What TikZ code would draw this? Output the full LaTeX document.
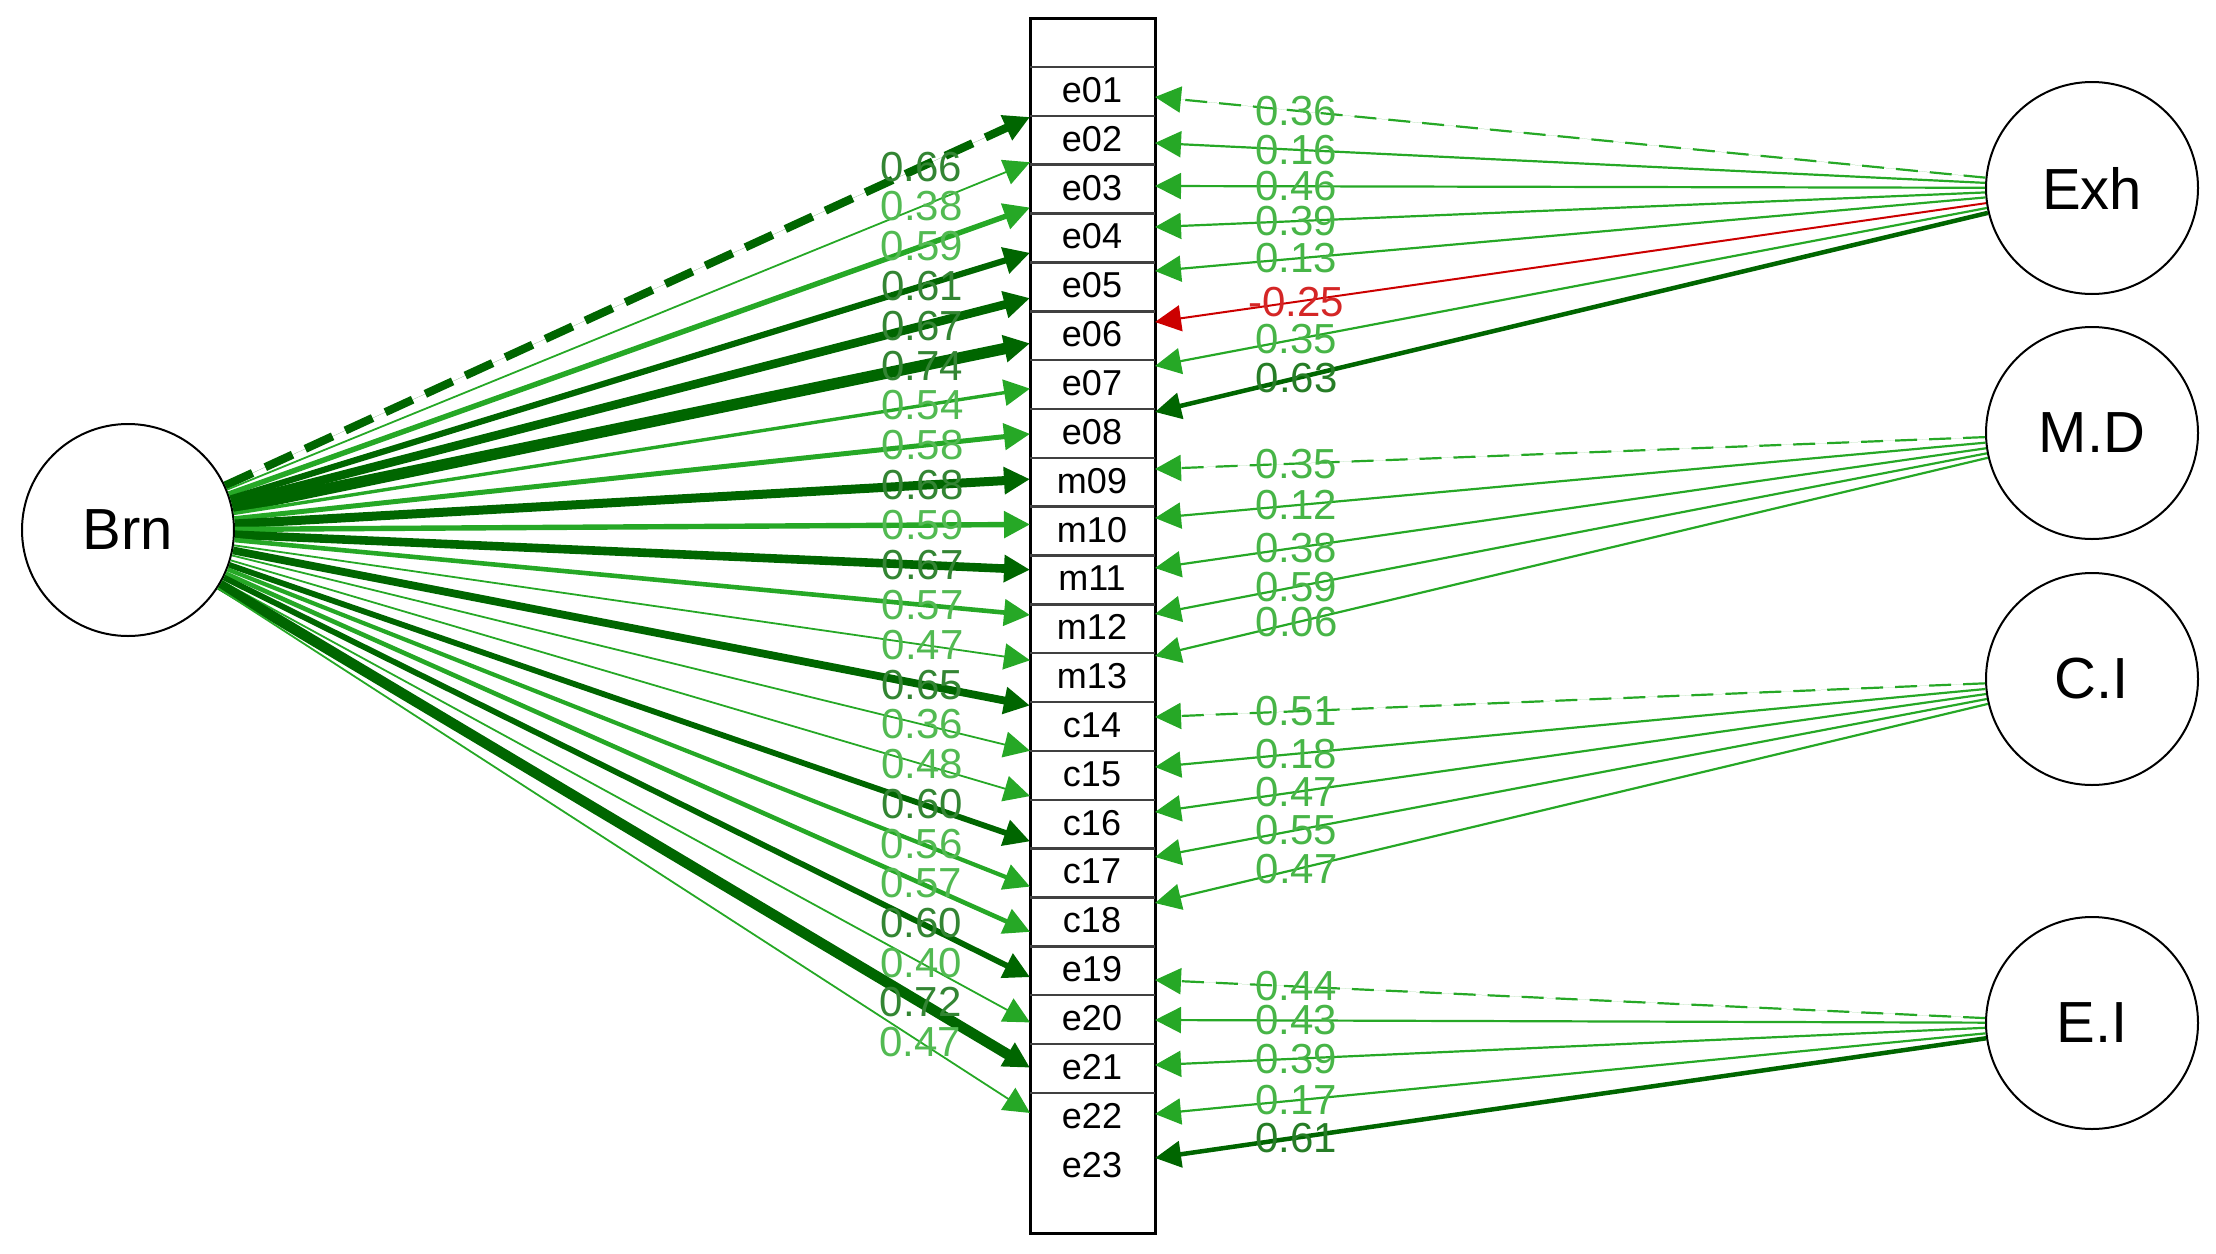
\documentclass[tikz,border=0pt]{standalone}
\usepackage{fontspec}
\setmainfont{Liberation Sans}
\usetikzlibrary{arrows.meta}
\colorlet{gl}{green!60!black!85}
\colorlet{gd}{green!40!black}
\colorlet{rr}{red!80!black}
\begin{document}
\begin{tikzpicture}[x=1pt,y=-1pt,
  lat/.style={circle,draw,line width=2pt,minimum size=212pt,inner sep=0pt,font=\fontsize{58}{60}\selectfont},
  itm/.style={font=\fontsize{36}{40}\selectfont},
  lab/.style={font=\fontsize{42}{44}\selectfont,inner sep=0pt},
  arr/.style={-{Triangle[length=26pt,width=26pt]}},
  dl/.style={dash pattern=on 30pt off 14pt},
  dr/.style={dash pattern=on 22pt off 12pt}]
\useasboundingbox (0,0) rectangle (2216,1253);
% item box
\draw[line width=3pt] (1030,18) rectangle (1155,1233);
\foreach \k in {0,...,21}{\draw[line width=2.5pt,black!75] (1030,67+48.85*\k) -- (1155,67+48.85*\k);}
\foreach \n [count=\i] in {e01,e02,e03,e04,e05,e06,e07,e08,m09,m10,m11,m12,m13,c14,c15,c16,c17,c18,e19,e20,e21,e22,e23}
  {\node[itm] (\n) at (1092,90+48.85*\i-48.85) {\n};}
% latents
\node[lat] (brn) at (128,530) {Brn};
\node[lat] (exh) at (2092,188) {Exh};
\node[lat] (md) at (2092,433) {M.D};
\node[lat] (ci) at (2092,679) {C.I};
\node[lat] (ei) at (2092,1023) {E.I};
% left loadings
\foreach \v [count=\i] in {0.66,0.38,0.59,0.61,0.67,0.74,0.54,0.58,0.68,0.59,0.67,0.57,0.47,0.65,0.36,0.48,0.60,0.56,0.57,0.60,0.40,0.72,0.47}{
  \pgfmathsetmacro{\w}{1.8+max(0,\v-0.5)*40}
  \pgfmathsetmacro{\dk}{\v>0.595 ? 1 : 0}
  \coordinate (l\i) at (1030,117+45.27*\i-45.27);
  \ifdim\dk pt>0.5pt \colorlet{cc}{gd}\else\colorlet{cc}{gl}\fi
  \ifnum\i=1 \tikzset{ds/.style={dl}}\else\tikzset{ds/.style={}}\fi
  \draw[arr,line width=\w pt,draw=cc,fill=cc,ds] (brn) -- (l\i)
     node[lab,pos=0.865,text=cc!80] {\v};
}
% right loadings
\foreach \v/\y/\src/\cl/\d in {0.36/97/exh/g/1,0.16/143/exh/g/0,0.46/186/exh/g/0,0.39/227/exh/g/0,0.13/271/exh/g/0,-0.25/322/exh/r/0,0.35/366/exh/g/0,0.63/412/exh/k/0,
  0.35/469/md/g/1,0.12/518/md/g/0,0.38/568/md/g/0,0.59/614/md/g/0,0.06/656/md/g/0,
  0.51/717/ci/g/1,0.18/767/ci/g/0,0.47/812/ci/g/0,0.55/857/ci/g/0,0.47/903/ci/g/0,
  0.44/980/ei/g/1,0.43/1020/ei/g/0,0.39/1065/ei/g/0,0.17/1114/ei/g/0,0.61/1158/ei/k/0}{
  \coordinate (r) at (1155,\y);
  \if\cl g\colorlet{cc}{gl}\def\w{2.2}\fi
  \if\cl k\colorlet{cc}{gd}\def\w{4.5}\fi
  \if\cl r\colorlet{cc}{rr}\def\w{2}\fi
  \ifnum\d=1 \tikzset{ds/.style={dr}}\else\tikzset{ds/.style={}}\fi
  \draw[arr,line width=\w pt,draw=cc,fill=cc,ds] (\src) -- (r)
     node[lab,pos=0.83,text=cc!85] {\v};
}
\end{tikzpicture}
\end{document}
